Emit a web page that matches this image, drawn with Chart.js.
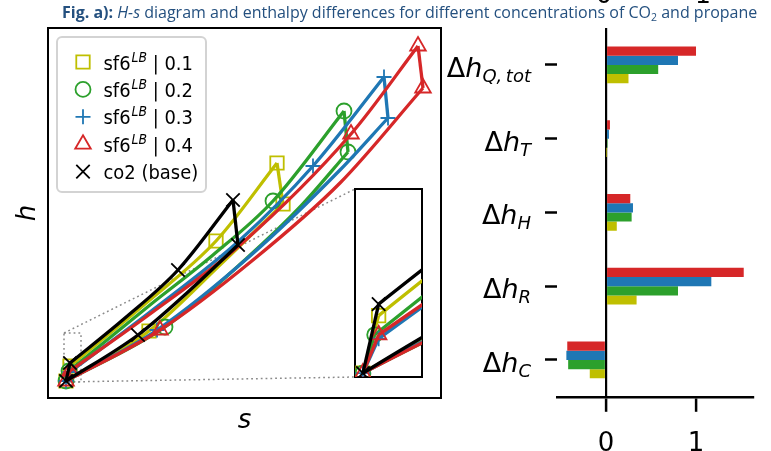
<!DOCTYPE html>
<html><head><meta charset="utf-8">
<script src="https://cdn.jsdelivr.net/npm/chart.js@4.4.1/dist/chart.umd.min.js"></script>
<style>
html,body{margin:0;padding:0;background:#fff;}
body{width:771px;height:451px;overflow:hidden;position:relative;}
.abs{position:absolute;}
#caption{left:62px;top:2px;font-family:'Open Sans',sans-serif;font-size:16px;line-height:20px;color:#24507f;white-space:nowrap;}
#caption sub{font-size:10.5px;line-height:0;vertical-align:-3px;}
.topTick{font-family:'DejaVu Sans';font-size:25px;line-height:25px;top:-17.6px;color:#000;transform:translateX(-50%);}
#zoom{background:#fff;}
</style></head>
<body>
<canvas id="hs" class="abs" style="left:0;top:0" width="450" height="451"></canvas>
<canvas id="zoom" class="abs" style="left:354px;top:188px" width="69" height="190"></canvas>
<canvas id="bars" class="abs" style="left:0;top:0" width="771" height="520"></canvas>
<div id="caption" class="abs"><b>Fig. a):</b> <i>H-s</i> diagram and enthalpy differences for different concentrations of CO<sub>2</sub> and propane</div>
<div class="abs topTick" style="left:604px">0</div>
<div class="abs topTick" style="left:703px">1</div>
<script>
// ================= DATA (arbitrary units) =================
// Legend texts
const seriesNames = ['sf6', 'sf6', 'sf6', 'sf6', 'co2 (base)'];
const seriesSup   = ['LB', 'LB', 'LB', 'LB', ''];
const seriesConc  = ['0.1', '0.2', '0.3', '0.4', ''];

// h-s diagram: state points [s, h] : bottom, start, mid-upper, top, top-2, mid-lower
const states01 = [[0.18,0.17],[0.22,0.32],[1.68,1.57],[2.29,2.35],[2.35,1.94],[1.01,0.67]];
const upper01  = [[0.22,0.32],[0.97,0.94],[1.68,1.57],[2.29,2.35]];
const lower01  = [[0.18,0.17],[1.01,0.67],[1.74,1.35],[2.35,1.94]];

const states02 = [[0.18,0.17],[0.21,0.27],[2.25,1.97],[2.96,2.87],[3.00,2.46],[1.17,0.71]];
const upper02  = [[0.21,0.27],[1.02,0.93],[1.65,1.43],[2.25,1.97],[2.96,2.87]];
const lower02  = [[0.18,0.17],[1.17,0.71],[1.99,1.40],[2.52,1.91],[3.00,2.46]];

const states03 = [[0.18,0.17],[0.22,0.26],[2.65,2.32],[3.36,3.21],[3.40,2.80],[1.09,0.68]];
const upper03  = [[0.22,0.26],[1.02,0.86],[1.92,1.58],[2.65,2.32],[3.36,3.21]];
const lower03  = [[0.18,0.17],[1.09,0.68],[2.02,1.42],[2.92,2.28],[3.40,2.80]];

const states04 = [[0.18,0.17],[0.22,0.27],[3.03,2.64],[3.70,3.52],[3.75,3.10],[1.12,0.68]];
const upper04  = [[0.22,0.27],[1.02,0.84],[1.92,1.53],[3.03,2.64],[3.70,3.52]];
const lower04  = [[0.18,0.17],[1.12,0.68],[2.05,1.38],[2.92,2.15],[3.75,3.10]];

const statesCO2 = [[0.18,0.17],[0.22,0.35],[1.30,1.28],[1.85,1.98],[1.90,1.53],[0.90,0.63]];
const upperCO2  = [[0.22,0.35],[0.77,0.80],[1.30,1.28],[1.85,1.98]];
const lowerCO2  = [[0.18,0.17],[0.90,0.63],[1.40,1.06],[1.90,1.53]];

// axis ranges of main plot and of the zoomed inset
const sRange = [0, 3.93];
const hRange = [0, 3.70];
const insetS = [0.16, 0.33];
const insetH = [0.16, 0.65];

// Bar chart: enthalpy differences
const categories = ['Δh_Q,tot', 'Δh_T', 'Δh_H', 'Δh_R', 'Δh_C'];
const catSub     = ['Q,\u2009tot', 'T', 'H', 'R', 'C'];
const dh01 = [0.25, 0.004, 0.12, 0.34, -0.18];
const dh02 = [0.58, 0.018, 0.285, 0.80, -0.42];
const dh03 = [0.80, 0.033, 0.30, 1.17, -0.44];
const dh04 = [1.00, 0.044, 0.27, 1.53, -0.43];
const dhRange = [-0.544, 1.633];
const dhTicks = [0, 1];

// ================= STYLES =================
const colors  = ['#bfbf00', '#2ca02c', '#1f77b4', '#d62728', '#000000'];
const markers = ['rect', 'circle', 'cross', 'triangle', 'crossRot'];
const mRadius = [9.5, 7.5, 7.5, 9, 9.5];
const LINE_W = 3.3;

const seriesData = [
  {states: states01, upper: upper01, lower: lower01},
  {states: states02, upper: upper02, lower: lower02},
  {states: states03, upper: upper03, lower: lower03},
  {states: states04, upper: upper04, lower: lower04},
  {states: statesCO2, upper: upperCO2, lower: lowerCO2}
];

const toXY = arr => arr.map(p => ({x: p[0], y: p[1]}));

function buildHsDatasets() {
  const ds = [];
  const order = [4, 3, 2, 1, 0]; // first = drawn on top
  for (const i of order) {
    const d = seriesData[i], c = colors[i];
    ds.push({data: toXY(d.states), showLine: false, pointStyle: markers[i], pointRadius: mRadius[i],
      pointHoverRadius: mRadius[i], pointBorderColor: c, pointBackgroundColor: 'rgba(0,0,0,0)',
      pointBorderWidth: 1.8, borderColor: c});
    ds.push({data: toXY(d.upper), borderColor: c, borderWidth: LINE_W, pointRadius: 0, fill: false,
      cubicInterpolationMode: 'monotone'});
    ds.push({data: toXY(d.lower), borderColor: c, borderWidth: LINE_W, pointRadius: 0, fill: false,
      cubicInterpolationMode: 'monotone'});
    ds.push({data: toXY([d.states[0], d.states[1]]), borderColor: c, borderWidth: LINE_W, pointRadius: 0, tension: 0});
    ds.push({data: toXY([d.states[3], d.states[4]]), borderColor: c, borderWidth: LINE_W, pointRadius: 0, tension: 0});
  }
  return ds;
}

const FONT = "'DejaVu Sans', sans-serif";

function frameScales(xr, yr, withTitles) {
  const hidden = {display: false, drawTicks: false};
  const b = {display: true, color: '#000', width: 2};
  const sc = {
    x:  {type: 'linear', position: 'bottom', min: xr[0], max: xr[1], grid: hidden, ticks: {display: false}, border: b},
    y:  {type: 'linear', position: 'left',   min: yr[0], max: yr[1], grid: hidden, ticks: {display: false}, border: b},
    x2: {type: 'linear', position: 'top',    display: true, min: xr[0], max: xr[1], grid: hidden, ticks: {display: false}, border: b},
    y2: {type: 'linear', position: 'right',  display: true, min: yr[0], max: yr[1], grid: hidden, ticks: {display: false}, border: b}
  };
  if (withTitles) {
    sc.x.title = {display: true, text: 's', color: '#000', font: {family: FONT, size: 26, style: 'italic'}, padding: {top: 8, bottom: 0}};
    sc.y.title = {display: true, text: 'h', color: '#000', font: {family: FONT, size: 26, style: 'italic'}, padding: {top: 4, bottom: 4}};
  }
  return sc;
}

// ---------- inset chart ----------
const zoomChart = new Chart(document.getElementById('zoom'), {
  type: 'line',
  data: {datasets: buildHsDatasets()},
  options: {
    responsive: false, animation: false, devicePixelRatio: 1,
    layout: {padding: 1, autoPadding: false},
    plugins: {legend: {display: false}, tooltip: {enabled: false}},
    events: [],
    scales: frameScales(insetS, insetH, false)
  }
});

// ---------- main h-s chart plugins ----------
const zoomMarkPlugin = {
  id: 'zoomMarks',
  beforeDatasetsDraw(chart) {
    const {ctx} = chart, xs = chart.scales.x, ys = chart.scales.y;
    const x0 = xs.getPixelForValue(insetS[0]), x1 = xs.getPixelForValue(insetS[1]);
    const y0 = ys.getPixelForValue(insetH[0]), y1 = ys.getPixelForValue(insetH[1]);
    const zc = zoomChart.canvas, za = zoomChart.chartArea;
    const il = zc.offsetLeft + za.left, it = zc.offsetTop + za.top, ib = zc.offsetTop + za.bottom;
    ctx.save();
    ctx.strokeStyle = '#8a8a8a'; ctx.lineWidth = 1.5; ctx.setLineDash([1.8, 3]);
    ctx.strokeRect(x0, y1, x1 - x0, y0 - y1);
    ctx.beginPath();
    ctx.moveTo(x0, y1); ctx.lineTo(il, it);
    ctx.moveTo(x0, y0); ctx.lineTo(il, ib);
    ctx.stroke();
    ctx.restore();
  }
};

const legendPlugin = {
  id: 'hsLegend',
  afterDatasetsDraw(chart) {
    const {ctx} = chart;
    const ca = chart.chartArea;
    const bx = ca.left + 9, by = ca.top + 9, bw = 149, bh = 155, rowH = 27.4;
    ctx.save();
    ctx.beginPath();
    ctx.roundRect(bx, by, bw, bh, 5);
    ctx.fillStyle = 'rgba(255,255,255,0.85)'; ctx.fill();
    ctx.strokeStyle = '#d3d3d3'; ctx.lineWidth = 2; ctx.stroke();
    for (let i = 0; i < 5; i++) {
      const cy = by + 25 + i * rowH, mx = bx + 26;
      ctx.strokeStyle = colors[i]; ctx.fillStyle = 'rgba(0,0,0,0)';
      ctx.lineWidth = 1.8;
      Chart.helpers.drawPoint(ctx, {pointStyle: markers[i], radius: mRadius[i], borderWidth: 1.8, rotation: 0}, mx, cy);
      const tx = bx + 46.5, base = cy + 7.5, sx = 0.92;
      ctx.fillStyle = '#000';
      ctx.save(); ctx.translate(tx, base); ctx.scale(sx, 1);
      ctx.font = `19.5px ${FONT}`;
      ctx.fillText(seriesNames[i], 0, 0);
      let w = ctx.measureText(seriesNames[i]).width;
      if (seriesSup[i]) {
        ctx.font = `italic 13.5px ${FONT}`;
        ctx.fillText(seriesSup[i], w + 1, -8);
        w += 1 + ctx.measureText(seriesSup[i]).width;
        ctx.font = `19.5px ${FONT}`;
        ctx.fillText(' | ' + seriesConc[i], w, 0);
      }
      ctx.restore();
    }
    ctx.restore();
  }
};

const hsChart = new Chart(document.getElementById('hs'), {
  type: 'line',
  data: {datasets: buildHsDatasets()},
  options: {
    responsive: false, animation: false, devicePixelRatio: 1,
    layout: {padding: {left: 8.8, top: 28, right: 9, bottom: 13.8}, autoPadding: false},
    plugins: {legend: {display: false}, tooltip: {enabled: false}},
    events: [],
    scales: frameScales(sRange, hRange, true)
  },
  plugins: [zoomMarkPlugin, legendPlugin]
});

// ---------- bar chart ----------
const mathLabelPlugin = {
  id: 'mathLabels',
  afterDraw(chart) {
    const {ctx} = chart, ys = chart.scales.y;
    const right = ys.left - 14;
    ctx.save();
    ctx.fillStyle = '#000'; ctx.textBaseline = 'alphabetic'; ctx.textAlign = 'left';
    categories.forEach((lab, i) => {
      const y = ys.getPixelForValue(i);
      ctx.font = `27px ${FONT}`; const w1 = ctx.measureText('Δ').width;
      ctx.font = `italic 27px ${FONT}`; const w2 = ctx.measureText('h').width;
      ctx.font = `italic 18px ${FONT}`; const w3 = ctx.measureText(catSub[i]).width;
      const x = right - (w1 + w2 + w3);
      const base = y + 12;
      ctx.font = `27px ${FONT}`; ctx.fillText('Δ', x, base);
      ctx.font = `italic 27px ${FONT}`; ctx.fillText('h', x + w1, base);
      ctx.font = `italic 18px ${FONT}`; ctx.fillText(catSub[i], x + w1 + w2, base + 5);
    });
    ctx.restore();
  }
};

const barSeries = [
  {label: 'sf6 | 0.4', data: dh04, color: colors[3]},
  {label: 'sf6 | 0.3', data: dh03, color: colors[2]},
  {label: 'sf6 | 0.2', data: dh02, color: colors[1]},
  {label: 'sf6 | 0.1', data: dh01, color: colors[0]}
];

new Chart(document.getElementById('bars'), {
  type: 'bar',
  data: {
    labels: categories,
    datasets: barSeries.map(s => ({label: s.label, data: s.data, backgroundColor: s.color, borderWidth: 0,
      categoryPercentage: 0.5, barPercentage: 1.0}))
  },
  options: {
    indexAxis: 'y', responsive: false, animation: false, devicePixelRatio: 1,
    layout: {padding: {left: 545, right: 18, top: 28, bottom: 43}, autoPadding: false},
    plugins: {legend: {display: false}, tooltip: {enabled: false}},
    events: [],
    scales: {
      x: {
        type: 'linear', min: dhRange[0], max: dhRange[1],
        afterBuildTicks: sc => { sc.ticks = dhTicks.map(v => ({value: v})); },
        ticks: {font: {family: FONT, size: 26}, color: '#000', padding: 17, callback: v => String(v)},
        grid: {display: true, drawOnChartArea: true, drawTicks: true, tickLength: 15, tickColor: '#000', tickWidth: 2.5,
          color: c => (c.tick && c.tick.value === 0) ? '#000' : 'rgba(0,0,0,0)', lineWidth: 2.2},
        border: {display: true, color: '#000', width: 2.5}
      },
      y: {
        type: 'category', offset: true,
        ticks: {display: false},
        grid: {display: true, offset: false, drawOnChartArea: false, drawTicks: true, tickLength: 12, tickColor: '#000', tickWidth: 2.5},
        border: {display: false}
      }
    }
  },
  plugins: [mathLabelPlugin]
});
</script>
</body></html>
